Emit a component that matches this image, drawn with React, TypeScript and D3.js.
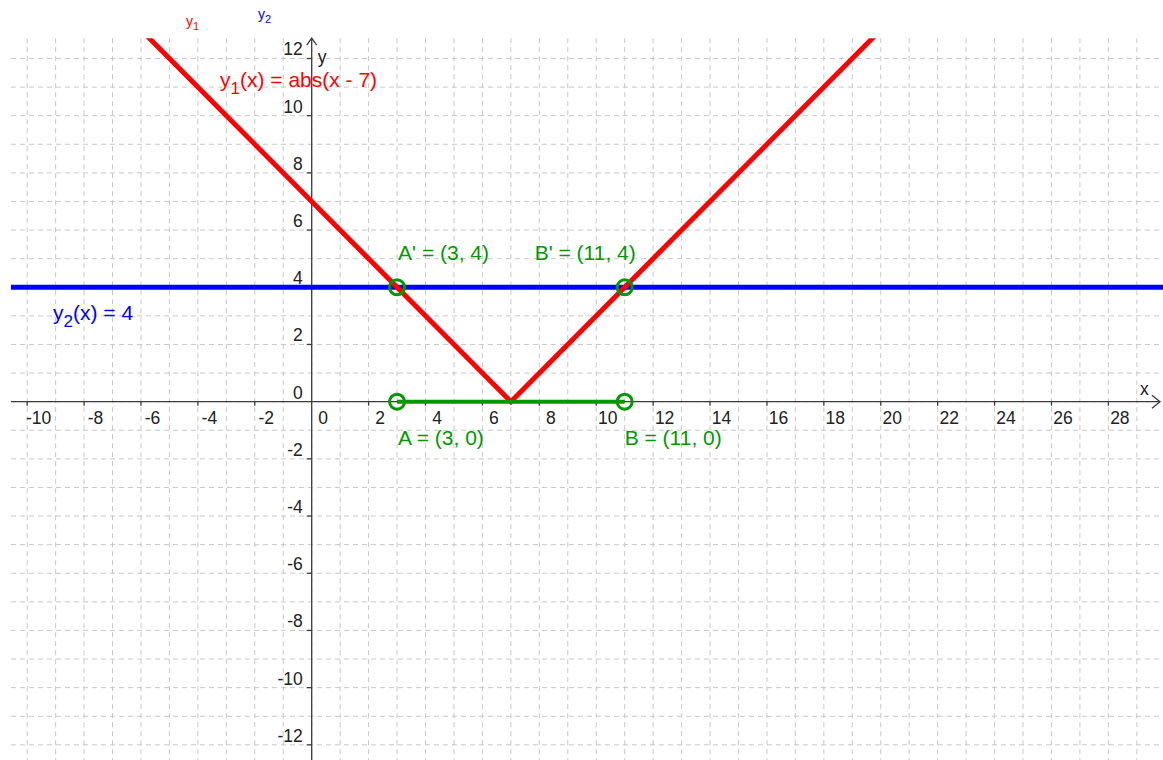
import React from 'react';
import * as d3 from 'd3';

const W = 1163;
const H = 760;

// tick labels
const xTicks = [-10, -8, -6, -4, -2, 0, 2, 4, 6, 8, 10, 12, 14, 16, 18, 20, 22, 24, 26, 28];
const yTicks = [-12, -10, -8, -6, -4, -2, 0, 2, 4, 6, 8, 10, 12];

// y1(x) = abs(x - 7): vertices of the V (clipped to the view)
const y1Vertices: [number, number][] = [[-6, 13], [7, 0], [20, 13]];
// y2(x) = 4
const y2Vertices: [number, number][] = [[-11, 4], [30, 4]];
// segment AB
const segmentAB: [number, number][] = [[3, 0], [11, 0]];

// points
const pointNames = ["A", "B", "A'", "B'"];
const pointX = [3, 11, 3, 11];
const pointY = [0, 0, 4, 4];
const pointLabels = ["A = (3, 0)", "B = (11, 0)", "A' = (3, 4)", "B' = (11, 4)"];

// graphics view bounds (grid area)
const viewXMin = -10.57;
const viewYMax = 12.71;

const FONT = "'Liberation Sans', Arial, sans-serif";
const RED = '#ff0000';
const BLUE = '#0000ff';
const GREEN = '#009900';
const AXIS = '#3c3c3c';
const GRID = '#c8c8c8';

export default function App() {
  const x = d3.scaleLinear().domain([-10.955, 29.92]).range([0, W]);
  const y = d3.scaleLinear().domain([-12.53, 14.045]).range([H, 0]);

  const line = d3
    .line<[number, number]>()
    .x((d) => x(d[0]))
    .y((d) => y(d[1]));

  const gridTop = y(viewYMax);
  const gridLeft = x(viewXMin);
  const vGrid = d3.range(-10, 30);
  const hGrid = d3.range(-12, 13);

  const x0 = x(0);
  const y0 = y(0);

  const labelOffsets: Record<string, [number, number]> = {
    A: [1, 43.5],
    B: [0, 43.5],
    "A'": [1, -27],
    "B'": [-90, -27],
  };

  return (
    <svg
      width={W}
      height={H}
      style={{ position: 'absolute', left: 0, top: 0, background: '#fff' }}
      fontFamily={FONT}
    >
      <defs>
        <clipPath id="view">
          <rect x={gridLeft} y={gridTop} width={W - gridLeft} height={H - gridTop} />
        </clipPath>
      </defs>

      {/* grid */}
      <g stroke={GRID} strokeWidth={1} strokeDasharray="5,4">
        {vGrid.map((v) => (
          <line key={'v' + v} x1={x(v)} x2={x(v)} y1={gridTop} y2={H} />
        ))}
        {hGrid.map((v) => (
          <line key={'h' + v} x1={gridLeft} x2={W} y1={y(v)} y2={y(v)} />
        ))}
      </g>

      {/* axes */}
      <g stroke={AXIS} strokeWidth={1.3} fill="none">
        <line x1={gridLeft} x2={1160} y1={y0} y2={y0} />
        <polyline points={`${1152},${y0 - 6.5} ${1160},${y0} ${1152},${y0 + 6.5}`} />
        <line x1={x0} x2={x0} y1={gridTop} y2={H} />
        <polyline points={`${x0 - 5},${gridTop + 7} ${x0},${gridTop} ${x0 + 5},${gridTop + 7}`} />
        {xTicks.filter((t) => t !== 0).map((t) => (
          <line key={'xt' + t} x1={x(t)} x2={x(t)} y1={y0} y2={y0 + 4} />
        ))}
        {yTicks.filter((t) => t !== 0).map((t) => (
          <line key={'yt' + t} x1={x0 - 5} x2={x0} y1={y(t)} y2={y(t)} />
        ))}
      </g>

      {/* tick labels */}
      <g fontSize={17.5} fill="#222">
        {xTicks.map((t) => (
          <text key={'xl' + t} x={x(t) + 11.5} y={y0 + 22} textAnchor="middle">
            {t}
          </text>
        ))}
        {yTicks.map((t) => (
          <text key={'yl' + t} x={x0 - 9} y={y(t) - 3} textAnchor="end">
            {t}
          </text>
        ))}
        <text x={1140} y={y0 - 7}>x</text>
        <text x={x0 + 6} y={y(12) + 5}>y</text>
      </g>

      {/* functions */}
      <g clipPath="url(#view)" fill="none">
        <path d={line(y2Vertices) || ''} stroke={BLUE} strokeWidth={5} />
        <path d={line(y1Vertices) || ''} stroke={RED} strokeWidth={5} strokeLinejoin="miter" />
        <path d={line(segmentAB) || ''} stroke={GREEN} strokeWidth={4} />
      </g>

      {/* points */}
      <g fill="none" stroke={GREEN} strokeWidth={3}>
        {pointNames.map((n, i) => (
          <circle key={n} cx={x(pointX[i])} cy={y(pointY[i])} r={7.5} />
        ))}
      </g>
      <g fill={GREEN} fontSize={21}>
        {pointNames.map((n, i) => (
          <text
            key={'pl' + n}
            x={x(pointX[i]) + labelOffsets[n][0]}
            y={y(pointY[i]) + labelOffsets[n][1]}
          >
            {pointLabels[i]}
          </text>
        ))}
      </g>

      {/* function labels */}
      <text x={220} y={87} fill={RED} fontSize={21}>
        y<tspan fontSize={17} dy={7}>1</tspan>
        <tspan dy={-7}>(x) = abs(x - 7)</tspan>
      </text>
      <text x={53} y={320} fill={BLUE} fontSize={21}>
        y<tspan fontSize={17} dy={7}>2</tspan>
        <tspan dy={-7}>(x) = 4</tspan>
      </text>

      {/* names at top */}
      <text x={186} y={26} fill={RED} fontSize={14}>
        y<tspan fontSize={11} dy={4}>1</tspan>
      </text>
      <text x={258} y={19} fill={BLUE} fontSize={14}>
        y<tspan fontSize={11} dy={4}>2</tspan>
      </text>
    </svg>
  );
}
